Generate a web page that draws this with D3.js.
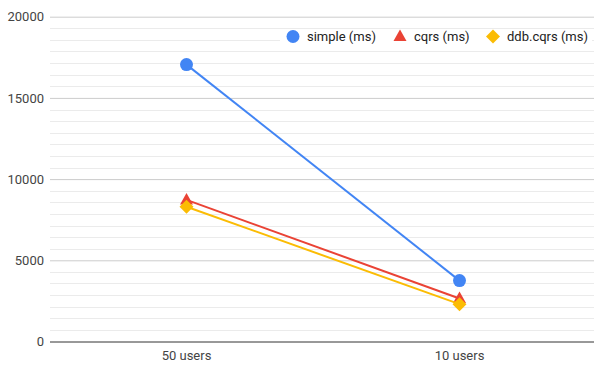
<!DOCTYPE html>
<html><head><meta charset="utf-8">
<script src="https://cdn.jsdelivr.net/npm/d3@7"></script>
<style>body{margin:0;background:#fff}svg{display:block;font-family:Roboto,Arial,sans-serif}</style>
</head><body>
<svg id="c" width="596" height="365"></svg>
<script>
const categories = ["50 users", "10 users"];
const simpleMs = [17050, 3750];
const cqrsMs = [8720, 2650];
const ddbCqrsMs = [8300, 2300];
const seriesNames = ["simple (ms)", "cqrs (ms)", "ddb.cqrs (ms)"];
const yTicks = [0, 5000, 10000, 15000, 20000];

const series = [
  {name: seriesNames[0], values: simpleMs, color: "#4285F4", shape: "circle"},
  {name: seriesNames[1], values: cqrsMs, color: "#EA4335", shape: "triangle"},
  {name: seriesNames[2], values: ddbCqrsMs, color: "#FBBC04", shape: "diamond"}
];

const svg = d3.select("#c");
const L = 50, R = 596, T = 16.7, B = 341.5;
const x = d3.scaleBand().domain(categories).range([L, R]);
const y = d3.scaleLinear().domain([0, 20000]).range([B, T]);

// minor gridlines (7 per major interval)
const minor = [];
for (let i = 0; i < yTicks.length - 1; i++) {
  for (let k = 1; k < 7; k++) minor.push(yTicks[i] + (yTicks[i+1] - yTicks[i]) * k / 7);
}
svg.append("g").selectAll("line").data(minor).join("line")
  .attr("x1", L).attr("x2", 594)
  .attr("y1", d => Math.round(y(d)) + 0.5).attr("y2", d => Math.round(y(d)) + 0.5)
  .attr("stroke", "#ebebeb").attr("stroke-width", 1);

const yAxis = d3.axisLeft(y).tickValues(yTicks).tickSize(-(594 - L)).tickPadding(6).tickFormat(d3.format("d"));
const ga = svg.append("g").attr("transform", `translate(${L},0)`).call(yAxis);
ga.select(".domain").remove();
ga.selectAll(".tick line").attr("stroke", d => d === 0 ? "#333" : "#cccccc");
ga.selectAll(".tick text").attr("fill", "#444").attr("font-size", 13).attr("font-family", "Roboto, Arial, sans-serif");

const xAxis = d3.axisBottom(x).tickSize(0).tickPadding(9);
const gx = svg.append("g").attr("transform", `translate(0,${B})`).call(xAxis);
gx.select(".domain").remove();
gx.selectAll(".tick text").attr("fill", "#444").attr("font-size", 13).attr("font-family", "Roboto, Arial, sans-serif");

// legend background
svg.append("rect").attr("x", 280).attr("y", 31).attr("width", 312).attr("height", 18).attr("fill", "#fff");

const cx = c => x(c) + x.bandwidth() / 2;
const line = d3.line().x((d, i) => cx(categories[i])).y(d => y(d));

function drawShape(g, shape, color, px, py) {
  if (shape === "circle") {
    g.append("circle").attr("cx", px).attr("cy", py).attr("r", 6.5).attr("fill", color);
  } else if (shape === "triangle") {
    g.append("path").attr("d", `M${px},${py-7}L${px+6.5},${py+4.5}L${px-6.5},${py+4.5}Z`).attr("fill", color);
  } else {
    g.append("path").attr("d", `M${px},${py-7}L${px+7},${py}L${px},${py+7}L${px-7},${py}Z`).attr("fill", color);
  }
}

series.forEach(s => {
  const g = svg.append("g");
  g.append("path").datum(s.values).attr("d", line).attr("fill", "none").attr("stroke", s.color).attr("stroke-width", 2);
  s.values.forEach((v, i) => drawShape(g, s.shape, s.color, cx(categories[i]), y(v)));
});

// legend
const legendX = [293, 400, 493];
series.forEach((s, i) => {
  const g = svg.append("g");
  drawShape(g, s.shape, s.color, legendX[i], 36.5);
  g.append("text").attr("x", legendX[i] + 14).attr("y", 41).attr("font-size", 13).attr("fill", "#222").text(s.name);
});
</script>
</body></html>
